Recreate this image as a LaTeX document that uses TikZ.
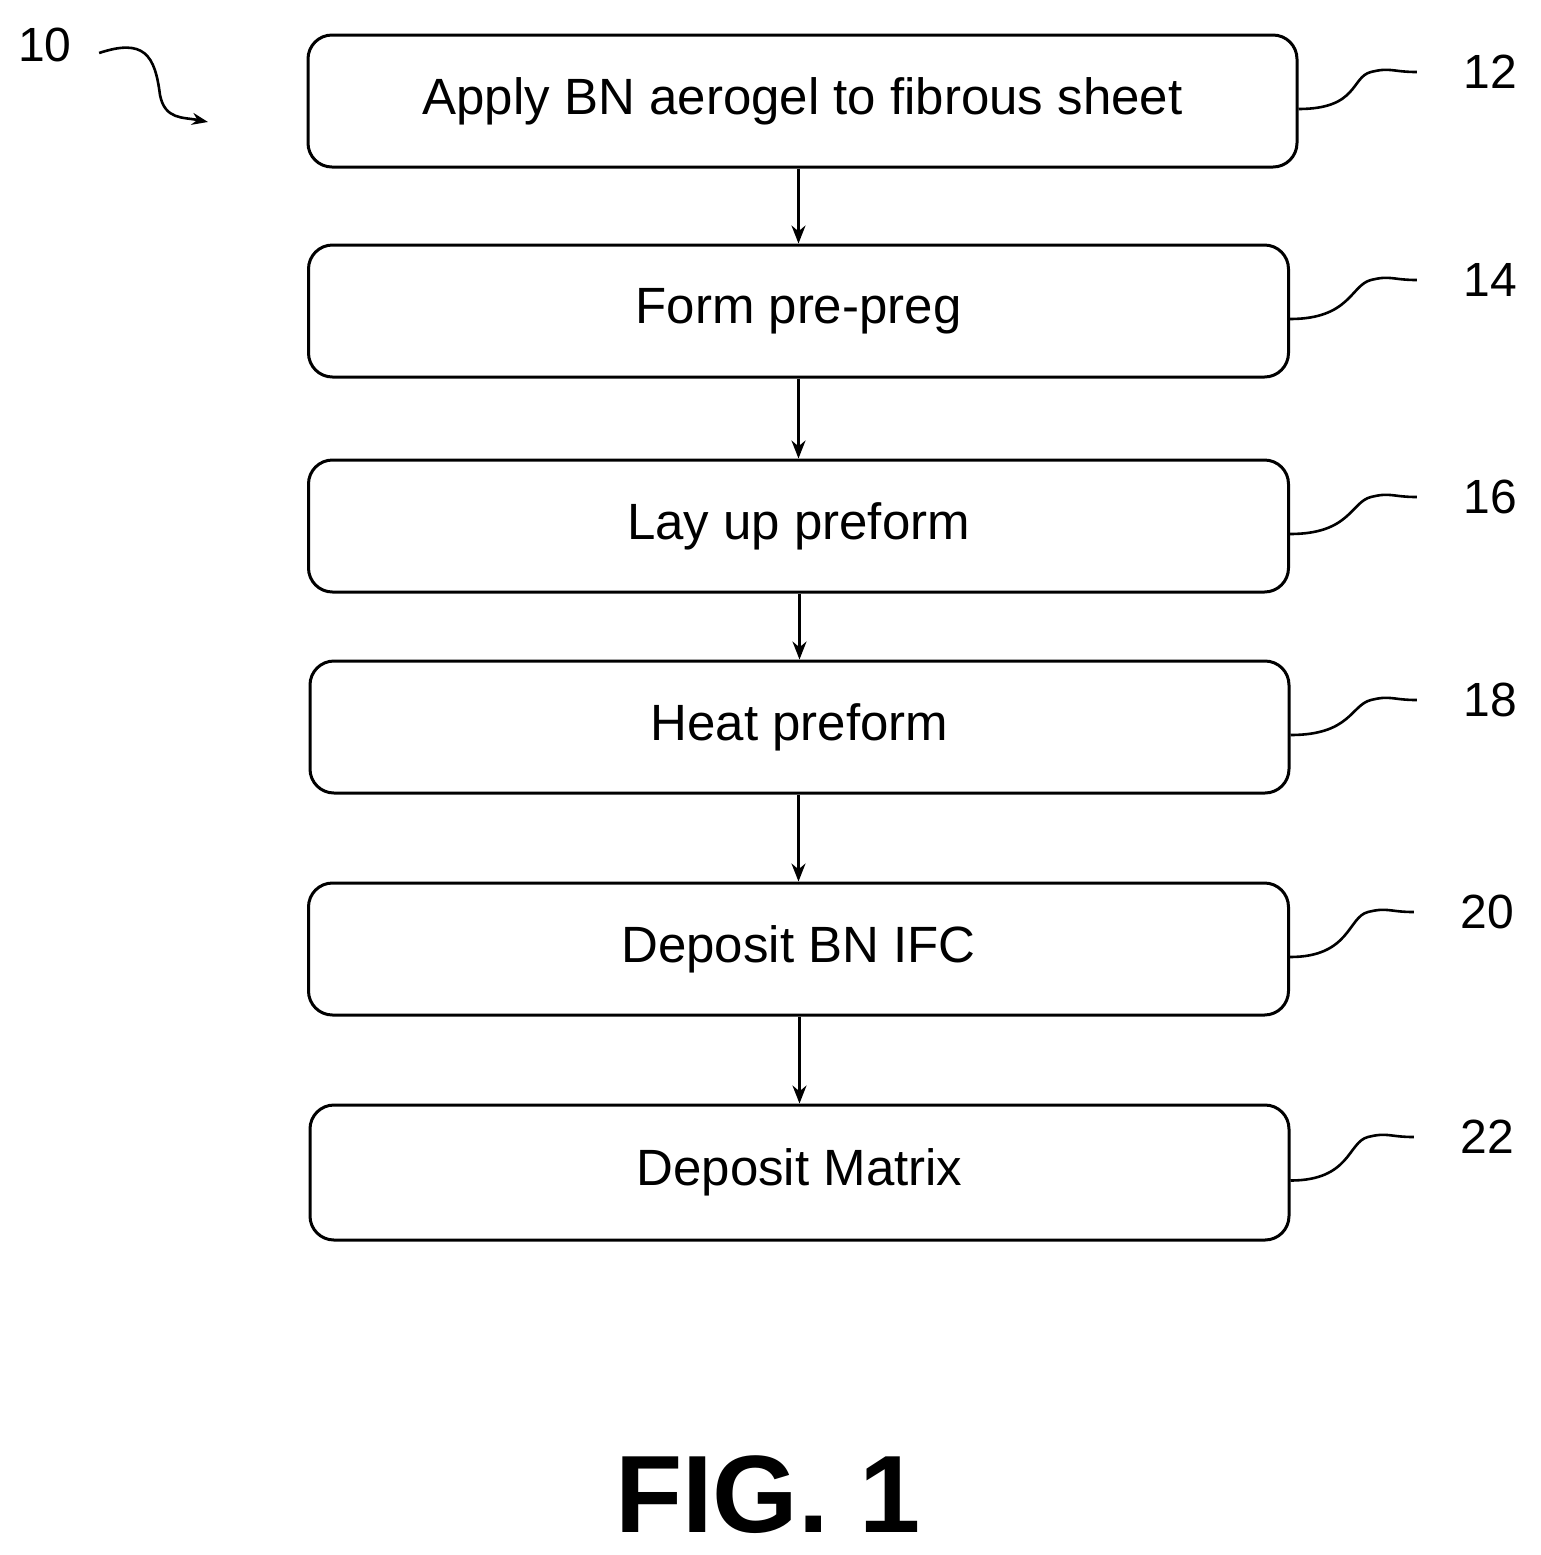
\documentclass[tikz,border=0pt]{standalone}
\usepackage{fontspec}
\setmainfont{Liberation Sans}
\usetikzlibrary{arrows.meta,positioning}
\tikzset{
  stepbox/.style={draw,line width=1.5pt,rounded corners=12pt,minimum width=490pt,minimum height=66pt,font=\fontsize{25.5}{30}\selectfont},
  ref/.style={font=\fontsize{24}{28}\selectfont,inner sep=1pt},
  flow/.style={line width=1.3pt,-{Stealth[length=9pt,width=7pt]}},
  lead/.style={line width=1.3pt},
}
\begin{document}
\begin{tikzpicture}[x=0.5pt,y=-0.5pt]
\useasboundingbox (0,0) rectangle (1541,1555);

% process steps
\node[stepbox,minimum width=494.5pt] (s12) at (802.5,101) {Apply BN aerogel to fibrous sheet};
\node[stepbox] (s14) at (798.5,311) {Form pre-preg};
\node[stepbox] (s16) at (798.5,526) {Lay up preform};
\node[stepbox,minimum width=489.5pt] (s18) at (799.5,727) {Heat preform};
\node[stepbox] (s20) at (798.5,949) {Deposit BN IFC};
\node[stepbox,minimum width=489.5pt,minimum height=67.5pt] (s22) at (799.5,1172.5) {Deposit Matrix};

% reference numerals
\node[ref] (n10) at (45,45) {10};
\node[ref] (n12) at (1490,72) {12};
\node[ref] (n14) at (1490,280) {14};
\node[ref] (n16) at (1490,497) {16};
\node[ref] (n18) at (1490,700) {18};
\node[ref] (n20) at (1487,912) {20};
\node[ref] (n22) at (1487,1137) {22};
\coordinate (c10) at (208,122);

% arrows
\foreach \a/\b in {12/14,14/16,16/18,18/20,20/22}
  \draw[flow] (s\b.north |- s\a.south) -- (s\b.north);

% leader lines
\foreach \s in {12,14,16,18,20,22}
  \draw[lead] ([yshift=-4pt]s\s.east) .. controls +(60,0) and +(-20,5) .. ([xshift=-45pt]n\s.west) .. controls +(20,-5) and +(-25,0) .. ([xshift=-22pt]n\s.west);
\draw[lead,-{Stealth[length=8pt,width=6pt]}] (n10.east) ++(25,8) .. controls +(45,-15) and +(-5,-40) .. (160,95) .. controls +(5,25) and +(-25,-5) .. (c10);

\node[font=\bfseries\fontsize{55}{60}\selectfont] (fig) at (768,1495) {FIG. 1};
\end{tikzpicture}
\end{document}
